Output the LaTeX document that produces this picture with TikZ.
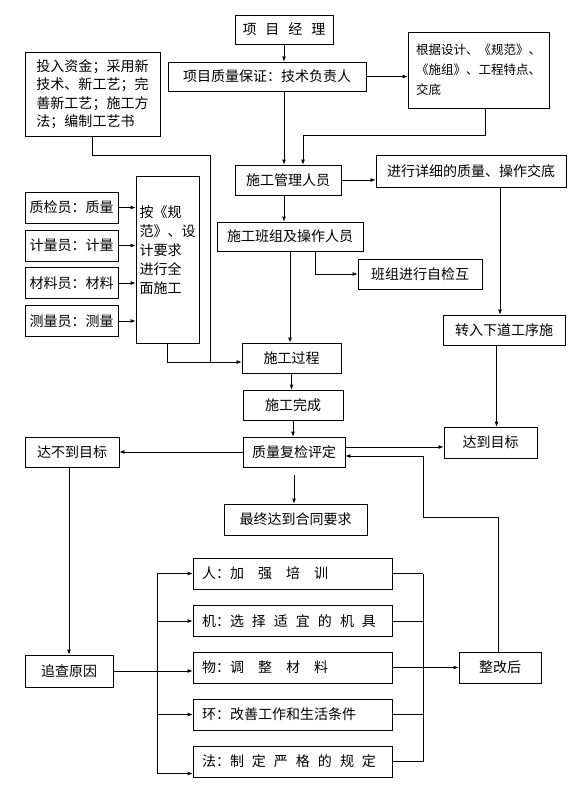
\documentclass[tikz,border=0pt]{standalone}
\usepackage{fontspec}
\newfontfamily\cjk{Noto Sans CJK SC}
\usetikzlibrary{arrows.meta}

\begin{document}
\begin{tikzpicture}[x=1bp, y=-1bp, >={Latex[length=5bp,width=4bp]}, line width=0.8bp]
    \newcommand{\lbusx}{157} % left bus of the remedy boxes
    \newcommand{\rbusx}{423} % right bus of the remedy boxes
    \newcommand{\remx}{292.5} % centre of the remedy boxes

    % set the style of the boxes
    \tikzset{
        box/.style={
            draw,
            line width=0.8bp,
            inner sep=2bp,
            minimum height=30bp,
            align=center,
            font=\cjk\fontsize{14bp}{19bp}\selectfont
            },
        remedy/.style={
            minimum height=31bp,
            text width=181bp,
            align=left,
            inner xsep=9bp
            }
    }

    \useasboundingbox (0,0) rectangle (577,789);

    % top of the chain
    \node[box, minimum width=98bp, minimum height=29bp] (pm) at (284,29.5) {项\hspace{9bp}目\hspace{9bp}经\hspace{9bp}理};
    \node[box, minimum width=198bp, minimum height=29bp] (qa) at (267,76.5) {项目质量保证：技术负责人};
    \node[box, minimum width=141bp, minimum height=76bp, align=left,
          font=\cjk\fontsize{12.5bp}{20bp}\selectfont] (basis) at (478.5,70) {根据设计、《规范》、\\《施组》、工程特点、\\交底};
    \node[box, minimum width=135bp, minimum height=84bp, align=left,
          font=\cjk\fontsize{14bp}{18.5bp}\selectfont] (invest) at (92.5,94) {投入资金；采用新\\技术、新工艺；完\\善新工艺；施工方\\法；编制工艺书};
    \node[box, minimum width=106bp] (mgr) at (288,180) {施工管理人员};
    \node[box, minimum width=190bp, minimum height=32bp] (brief) at (471,171) {进行详细的质量、操作交底};
    \node[box, minimum width=146bp, minimum height=29bp] (team) at (290,236.5) {施工班组及操作人员};
    \node[box, minimum width=124bp] (self) at (420,274) {班组进行自检互};
    \node[box, minimum width=122bp] (next) at (504,330) {转入下道工序施};

    % left column
    \foreach \nm/\yy/\txt in {qc/207.5/质检员：质量, meas/245.5/计量员：计量, matl/283/材料员：材料, surv/321/测量员：测量}
        \node[box, minimum width=93bp, minimum height=31bp] (\nm) at (71.5,\yy) {\txt};
    \node[box, minimum width=63bp, minimum height=167bp, align=left] (spec) at (167.5,259.5) {按《规\\范》、设\\计要求\\进行全\\面施工\\\mbox{}};

    % process and check
    \node[box, minimum width=99bp] (proc) at (291.5,358) {施工过程};
    \node[box, minimum width=100bp] (done) at (293,405) {施工完成};
    \node[box, minimum width=102bp] (recheck) at (294,452) {质量复检评定};
    \node[box, minimum width=94bp] (fail) at (72,452) {达不到目标};
    \node[box, minimum width=93bp, minimum height=31bp] (pass) at (490.5,442.5) {达到目标};
    \node[box, minimum width=143bp, minimum height=31bp] (final) at (295.5,519.5) {最终达到合同要求};

    % remedies
    \node[box, minimum width=88bp, minimum height=32bp] (cause) at (69,671) {追查原因};
    \foreach \nm/\yy/\txt in {ren/573.5/{人：加\hspace{14bp}强\hspace{14bp}培\hspace{14bp}训},
                              ji/621/{机：选\hspace{8bp}择\hspace{8bp}适\hspace{8bp}宜\hspace{8bp}的\hspace{8bp}机\hspace{8bp}具},
                              wu/667.5/{物：调\hspace{14bp}整\hspace{14bp}材\hspace{14bp}料},
                              huan/714.5/{环：改善工作和生活条件},
                              fa/761.5/{法：制\hspace{8bp}定\hspace{8bp}严\hspace{8bp}格\hspace{8bp}的\hspace{8bp}规\hspace{8bp}定}}
        \node[box, remedy] (\nm) at (\remx,\yy) {\txt};
    \node[box, minimum width=82bp, minimum height=31bp] (fix) at (500,667.5) {整改后};

    % arrows of the top chain
    \draw[->] (pm.south) -- (pm.south |- qa.north);
    \draw[->] (qa.east) -- (qa.east -| basis.west);
    \draw[->] (pm.south |- qa.south) -- (pm.south |- mgr.north);
    \coordinate (bend) at (485,135);
    \draw[->] (basis.south -| bend) -- (bend) -| ([xshift=15bp]mgr.north);
    \draw[->] (mgr.east) -- (mgr.east -| brief.west);
    \draw[->] (pm.south |- mgr.south) -- (pm.south |- team.north);
    \draw[->] ([xshift=25bp]team.south) |- (self.west);
    \draw[->] (team.south) -- (team.south |- proc.north);
    \draw[->] ([xshift=-4bp]next.north |- brief.south) -- ([xshift=-4bp]next.north);
    \draw[->] ([xshift=6bp]pass.north |- next.south) -- ([xshift=6bp]pass.north);

    % left side into the process
    \foreach \nm in {qc,meas,matl,surv}
        \draw[->] (\nm.east) -- (\nm.east -| spec.west);
    \coordinate (jtop) at (210,155);
    \coordinate (join) at (210,362);
    \draw (invest.south) |- (jtop) -- (join);
    \draw (spec.south) |- (join);
    \draw[->] (join) -- (join -| proc.west);

    % checking
    \draw[->] (proc.south) -- (proc.south |- done.north);
    \draw[->] (done.south) -- (done.south |- recheck.north);
    \draw[->] (recheck.west) -- (fail.east);
    \coordinate (rout) at ([yshift=5bp]recheck.east);
    \draw[->] (rout) -- (rout -| pass.west);
    \draw[->, shorten <=8bp] (recheck.south) -- (recheck.south |- final.north);

    % feedback after rectification
    \coordinate (rin) at ([yshift=-4bp]recheck.east);
    \coordinate (fb) at (\rbusx,517);
    \draw[->] ([xshift=-2bp]fix.north) |- (fb) |- (rin);

    % tracing the causes
    \draw[->] (cause.north |- fail.south) -- (cause.north);
    \draw[->] (cause.east) -- (cause.east -| wu.west);
    \coordinate (lbus) at (\lbusx,0);
    \coordinate (rbus) at (\rbusx,0);
    \coordinate (fain) at ([yshift=-12bp]fa.west);
    \draw (lbus |- ren.west) -- (lbus |- fain);
    \foreach \nm in {ren,ji,huan}
        \draw[->] (lbus |- \nm.west) -- (\nm.west);
    \draw[->] (lbus |- fain) -- (fain);
    \draw (rbus |- ren.east) -- (rbus |- fa.east);
    \foreach \nm in {ren,ji,huan,fa}
        \draw (\nm.east) -- (rbus |- \nm.east);
    \draw[->] (wu.east) -- (fix.west);

\end{tikzpicture}
\end{document}
